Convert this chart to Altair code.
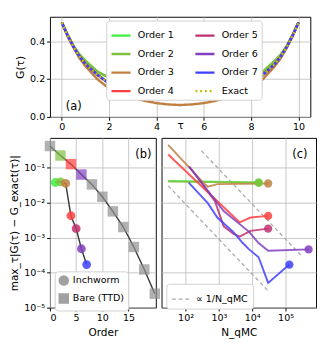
import altair as alt
import pandas as pd

# ---------------- Panel (a): G(tau) ----------------
tau = [0.0, 0.25, 0.5, 0.75, 1.0, 1.5, 2.0, 2.5, 3.0, 3.5, 4.0, 4.5, 5.0,
       5.5, 6.0, 6.5, 7.0, 7.5, 8.0, 8.5, 9.0, 9.25, 9.5, 9.75, 10.0]
g_order1 = [0.500, 0.435, 0.375, 0.330, 0.297, 0.240, 0.207, 0.183, 0.165, 0.152, 0.144, 0.140, 0.138,
            0.140, 0.144, 0.152, 0.165, 0.183, 0.207, 0.240, 0.297, 0.330, 0.375, 0.435, 0.500]
g_order2 = [0.500, 0.435, 0.375, 0.330, 0.297, 0.240, 0.207, 0.183, 0.165, 0.152, 0.144, 0.140, 0.138,
            0.140, 0.144, 0.152, 0.165, 0.183, 0.207, 0.240, 0.297, 0.330, 0.375, 0.435, 0.500]
g_order3 = [0.500, 0.425, 0.365, 0.310, 0.268, 0.200, 0.150, 0.122, 0.102, 0.085, 0.073, 0.066, 0.063,
            0.066, 0.073, 0.085, 0.102, 0.122, 0.150, 0.200, 0.268, 0.310, 0.365, 0.425, 0.500]
g_order4 = [0.500, 0.430, 0.370, 0.320, 0.280, 0.223, 0.178, 0.155, 0.137, 0.119, 0.106, 0.101, 0.099,
            0.101, 0.106, 0.119, 0.137, 0.155, 0.178, 0.223, 0.280, 0.320, 0.370, 0.430, 0.500]
g_order5 = [0.500, 0.430, 0.370, 0.320, 0.280, 0.223, 0.178, 0.155, 0.137, 0.119, 0.106, 0.101, 0.099,
            0.101, 0.106, 0.119, 0.137, 0.155, 0.178, 0.223, 0.280, 0.320, 0.370, 0.430, 0.500]
g_order6 = [0.500, 0.430, 0.370, 0.320, 0.280, 0.223, 0.178, 0.155, 0.137, 0.119, 0.106, 0.101, 0.099,
            0.101, 0.106, 0.119, 0.137, 0.155, 0.178, 0.223, 0.280, 0.320, 0.370, 0.430, 0.500]
g_order7 = [0.500, 0.430, 0.370, 0.320, 0.280, 0.223, 0.178, 0.155, 0.137, 0.119, 0.106, 0.101, 0.099,
            0.101, 0.106, 0.119, 0.137, 0.155, 0.178, 0.223, 0.280, 0.320, 0.370, 0.430, 0.500]
g_exact = [0.500, 0.430, 0.370, 0.320, 0.280, 0.223, 0.178, 0.155, 0.137, 0.119, 0.106, 0.101, 0.099,
           0.101, 0.106, 0.119, 0.137, 0.155, 0.178, 0.223, 0.280, 0.320, 0.370, 0.430, 0.500]

series_names = ["Order 1", "Order 2", "Order 3", "Order 4", "Order 5", "Order 6", "Order 7", "Exact"]
series_colors = ["#3fee3f", "#80c040", "#c08040", "#ff4040", "#c03070", "#8040c0", "#4040ff", "#c0c000"]
series_g = [g_order1, g_order2, g_order3, g_order4, g_order5, g_order6, g_order7, g_exact]

# ---------------- Panel (b): error vs order ----------------
inch_order = [1, 2, 3, 4, 5, 6, 7]
inch_err = [0.0373, 0.039, 0.035, 0.0042, 0.0018, 0.00048, 0.00017]
bare_order = [0, 2, 4, 6, 8, 10, 12, 14, 16, 18, 20]
bare_err = [0.41, 0.22, 0.125, 0.063, 0.033, 0.0146, 0.0056, 0.0020, 0.00054, 0.000123, 0.000025]
bare_colors = ["#909090", "#80c040", "#ff4040", "#8040c0", "#909090", "#909090",
               "#909090", "#909090", "#909090", "#909090", "#909090"]

# ---------------- Panel (c): error vs N_qMC ----------------
c_n = [
    [30, 15500],
    [30, 15500],
    [30, 373, 464, 894, 30000],
    [30, 4170, 8900, 30000],
    [128, 760, 1390, 2680, 4170, 8900, 30000],
    [128, 1390, 8050, 15500, 30000, 490000],
    [124, 464, 894, 2680, 5180, 8050, 15500, 30000, 130000],
]
c_err = [
    [0.0416, 0.0373],
    [0.0400, 0.0370],
    [0.44, 0.0336, 0.0285, 0.0336, 0.035],
    [0.235, 0.00273, 0.00373, 0.00416],
    [0.107, 0.011, 0.0021, 0.0013, 0.00106, 0.00155, 0.0018],
    [0.107, 0.0057, 0.00146, 0.0007, 0.00042, 0.00046],
    [0.037, 0.0096, 0.00373, 0.00146, 0.0007, 0.00046, 0.000275, 0.000051, 0.00017],
]
ref_n = [[30, 30000], [300, 300000]]
ref_err = [[0.030, 0.000030], [0.30, 0.00030]]
ref_label = "∝ 1/N_qMC"

# ---------------- build tables ----------------
top_rows = []
for i, (name, gs) in enumerate(zip(series_names, series_g)):
    for t, g in zip(tau, gs):
        top_rows.append({"series": name, "idx": i, "tau": t, "G": g})
top_df = pd.DataFrame(top_rows)

legend_dash = [[2, 3] if s == "Exact" else [1, 0] for s in series_names]

top_legend = alt.Legend(
    title=None, orient="none", legendX=59, legendY=4, columns=2, columnPadding=17,
    rowPadding=2.5, symbolType="stroke", symbolSize=400, symbolStrokeWidth=2.5,
    labelFontSize=10, fillColor="white", strokeColor="#d0d0d0", cornerRadius=3, padding=4,
    labelOffset=6,
)

top_lines = alt.Chart(top_df).mark_line(strokeWidth=2.5).encode(
    x=alt.X("tau:Q", scale=alt.Scale(domain=[-0.5, 10.5], nice=False, zero=False),
            axis=alt.Axis(values=[0, 2, 4, 6, 8, 10], title="τ", titleY=9,
                          titleBaseline="middle", grid=True)),
    y=alt.Y("G:Q", scale=alt.Scale(domain=[0, 0.53], nice=False),
            axis=alt.Axis(values=[0, 0.2, 0.4], format=".1f", title="G(τ)", grid=True)),
    color=alt.Color("series:N", scale=alt.Scale(domain=series_names, range=series_colors),
                    legend=top_legend),
    strokeDash=alt.StrokeDash("series:N", scale=alt.Scale(domain=series_names, range=legend_dash),
                              legend=top_legend),
    order=alt.Order("tau:Q"),
)
label_a = alt.Chart(pd.DataFrame({"t": ["(a)"]})).mark_text(
    fontSize=12, align="center", baseline="middle", color="black").encode(
    text="t:N", x=alt.value(25), y=alt.value(94))
top = alt.layer(top_lines, label_a).properties(width=273, height=105)

# ---------------- panel (b) ----------------
y_labels = "['10⁻⁵','10⁻⁴','10⁻³','10⁻²','10⁻¹'][round(log(datum.value)/LN10)+5]"
y_scale = alt.Scale(type="log", domain=[1e-5, 0.7], nice=False)

inch_df = pd.DataFrame({"order": inch_order, "err": inch_err,
                        "col": series_colors[:7], "method": "Inchworm"})
bare_df = pd.DataFrame({"order": bare_order, "err": bare_err,
                        "col": bare_colors, "method": "Bare (TTD)"})

shape_legend = alt.Legend(
    title=None, orient="none", legendX=5, legendY=140, symbolFillColor="#8a8a8a",
    symbolStrokeColor="#8a8a8a", symbolOpacity=0.8, symbolSize=90, labelFontSize=10,
    fillColor="white", strokeColor="#d0d0d0", cornerRadius=3, padding=4, rowPadding=2,
)
shape_scale = alt.Scale(domain=["Inchworm", "Bare (TTD)"], range=["circle", "square"])

xb = alt.X("order:Q", scale=alt.Scale(domain=[0, 20.2], nice=False, zero=False),
           axis=alt.Axis(values=[0, 5, 10, 15], title="Order", grid=True, titlePadding=5))
yb = alt.Y("err:Q", scale=y_scale,
           axis=alt.Axis(values=[1e-5, 1e-4, 1e-3, 1e-2, 1e-1], labelExpr=y_labels,
                         title="max_τ|G(τ) − G_exact(τ)|", grid=True))

bare_line = alt.Chart(bare_df).mark_line(color="#3a3a3a", strokeWidth=1.5).encode(x=xb, y=yb)
bare_pts = alt.Chart(bare_df).mark_point(filled=True, opacity=0.7, size=120).encode(
    x=xb, y=yb, color=alt.Color("col:N", scale=None),
    shape=alt.Shape("method:N", scale=shape_scale, legend=shape_legend))
inch_line = alt.Chart(inch_df).mark_line(color="#3a3a3a", strokeWidth=1.5).encode(x=xb, y=yb)
inch_pts = alt.Chart(inch_df).mark_point(filled=True, opacity=0.85, size=85).encode(
    x=xb, y=yb, color=alt.Color("col:N", scale=None),
    shape=alt.Shape("method:N", scale=shape_scale, legend=shape_legend))
label_b = alt.Chart(pd.DataFrame({"t": ["(b)"]})).mark_text(
    fontSize=12, align="center", baseline="middle", color="black").encode(
    text="t:N", x=alt.value(98), y=alt.value(17))
panel_b = alt.layer(bare_line, bare_pts, inch_line, inch_pts, label_b).properties(width=111, height=178)

# ---------------- panel (c) ----------------
c_rows = []
end_rows = []
for i in range(7):
    for n, e in zip(c_n[i], c_err[i]):
        c_rows.append({"series": series_names[i], "idx": i, "N": n, "err": e, "col": series_colors[i]})
    end_rows.append({"series": series_names[i], "idx": i, "N": c_n[i][-1], "err": c_err[i][-1],
                     "col": series_colors[i]})
c_df = pd.DataFrame(c_rows)
end_df = pd.DataFrame(end_rows)
ref_rows = []
for j in range(2):
    for n, e in zip(ref_n[j], ref_err[j]):
        ref_rows.append({"line": j, "N": n, "err": e, "ref": ref_label})
ref_df = pd.DataFrame(ref_rows)

x_labels = "['10²','10³','10⁴','10⁵'][round(log(datum.value)/LN10)-2]"
xc = alt.X("N:Q", scale=alt.Scale(type="log", domain=[19, 8.2e5], nice=False),
           axis=alt.Axis(values=[1e2, 1e3, 1e4, 1e5], labelExpr=x_labels, title="N_qMC",
                         grid=True, titlePadding=5))
yc = alt.Y("err:Q", scale=y_scale,
           axis=alt.Axis(values=[1e-5, 1e-4, 1e-3, 1e-2, 1e-1], labels=False, ticks=False,
                         title=None, grid=True))

ref_lines = alt.Chart(ref_df).mark_line(color="#a8a8a8", strokeWidth=1.3).encode(
    x=xc, y=yc, detail="line:N",
    strokeDash=alt.StrokeDash("ref:N", scale=alt.Scale(domain=[ref_label], range=[[4, 3]]),
                              legend=alt.Legend(title=None, orient="none", legendX=5, legendY=153,
                                                symbolType="stroke", symbolSize=400,
                                                symbolStrokeColor="#a8a8a8", symbolStrokeWidth=1.3,
                                                labelFontSize=10, fillColor="white",
                                                strokeColor="#d0d0d0", cornerRadius=3, padding=5)))
c_lines = alt.Chart(c_df).mark_line(strokeWidth=2, opacity=0.85).encode(
    x=xc, y=yc, color=alt.Color("col:N", scale=None), detail="series:N", order=alt.Order("N:Q"))
c_pts = alt.Chart(end_df).mark_circle(size=75, opacity=0.85).encode(
    x=xc, y=yc, color=alt.Color("col:N", scale=None))
label_c = alt.Chart(pd.DataFrame({"t": ["(c)"]})).mark_text(
    fontSize=12, align="center", baseline="middle", color="black").encode(
    text="t:N", x=alt.value(145), y=alt.value(17))
panel_c = alt.layer(ref_lines, c_lines, c_pts, label_c).properties(width=162, height=178)

bottom = alt.hconcat(panel_b, panel_c, spacing=0).resolve_scale(
    strokeDash="independent", shape="independent"
).resolve_legend(strokeDash="independent", shape="independent")

chart = alt.vconcat(top, bottom, spacing=5).resolve_scale(
    color="independent", strokeDash="independent", shape="independent"
).resolve_legend(
    color="independent", strokeDash="independent", shape="independent"
).properties(padding=0).configure_view(
    stroke="black", strokeWidth=1
).configure_axis(
    labelFont="DejaVu Sans", titleFont="DejaVu Sans", labelFontSize=10, titleFontSize=11,
    labelColor="black", titleColor="black", titleFontWeight="normal", tickColor="black",
    tickSize=3.5, domain=False, gridColor="#b8b8b8", gridWidth=0.8, labelPadding=2,
).configure_legend(
    labelFont="DejaVu Sans", labelColor="black"
).configure_text(font="DejaVu Sans")

chart.save("out.html", embed_options={"renderer": "svg", "actions": False})
